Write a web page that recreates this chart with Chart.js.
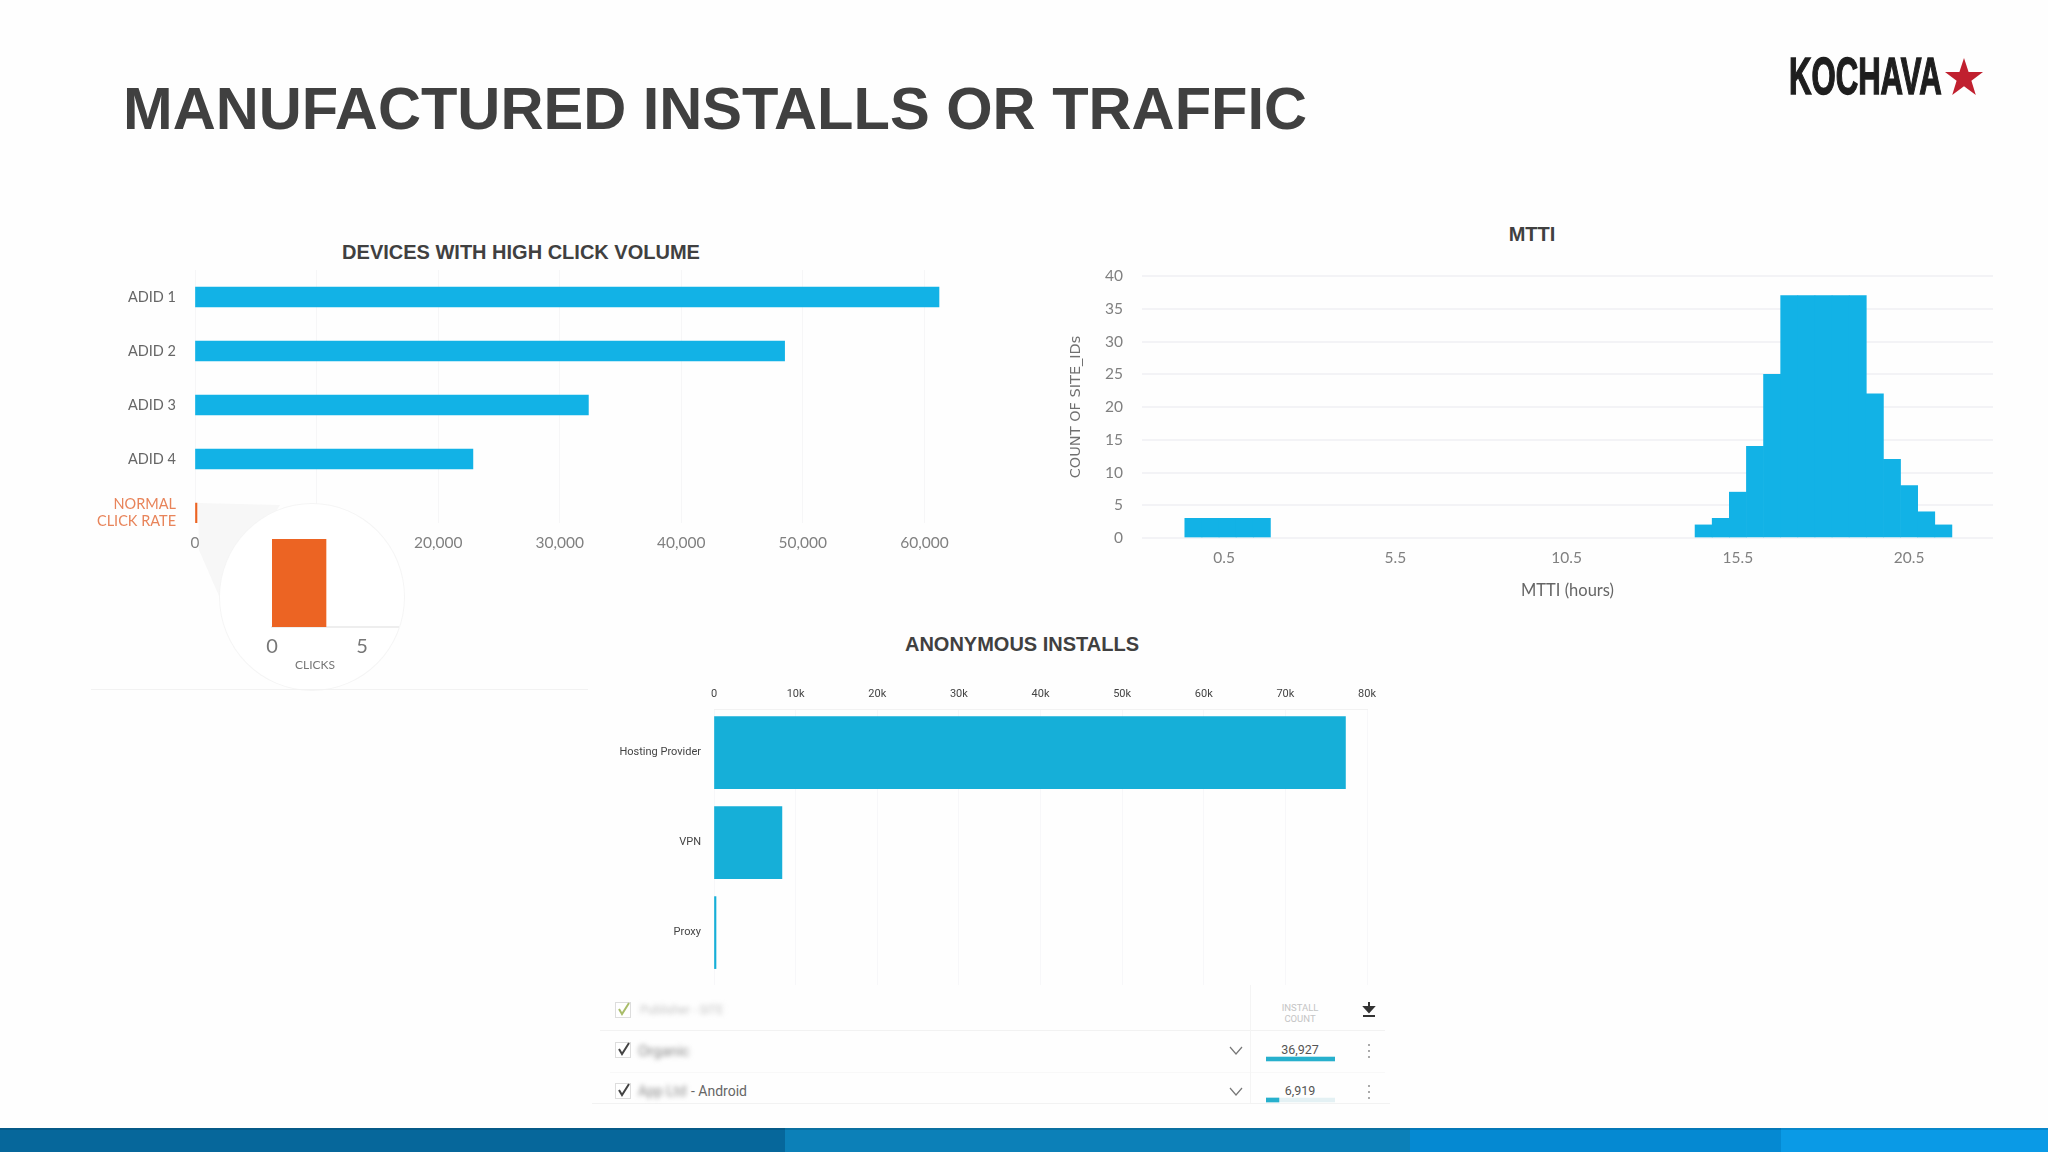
<!DOCTYPE html>
<html>
<head>
<meta charset="utf-8">
<title>Manufactured installs or traffic</title>
<script src="https://cdn.jsdelivr.net/npm/chart.js@4"></script>
<style>
    html, body { margin: 0; padding: 0; background: #fefefe; }
    #slide { position: relative; width: 2048px; height: 1152px; overflow: hidden; font-family: "Liberation Sans", sans-serif; }
    #slide > * { position: absolute; }
    canvas { display: block; }
    .heading { color: #404040; font-weight: bold; font-size: 20px; white-space: nowrap; transform: translateX(-50%); line-height: 24px; }
    .cell { white-space: nowrap; font-family: Roboto, sans-serif; line-height: 16px; }
    .blur { filter: blur(2.5px); color: #888; }
    .rule { background: #f2f2f2; height: 1px; }
    .foot { top: 1128px; height: 24px; border-top: 2px solid rgba(0, 0, 0, 0.12); box-sizing: border-box; }
</style>
</head>
<body>
<div id="slide">
    <div style="left:123px;top:74px;font-size:59.6px;font-weight:bold;color:#404040;line-height:70px;white-space:nowrap;">MANUFACTURED INSTALLS OR TRAFFIC</div>

    <!-- logo -->
    <div style="left:1789px;top:41px;font-family:'Liberation Sans Narrow','Liberation Sans';font-weight:bold;font-size:51px;line-height:72px;color:#1e1e1e;-webkit-text-stroke:1.5px #1e1e1e;transform:scaleX(0.61);transform-origin:left top;white-space:nowrap;">KOCHAVA</div>
    <svg style="left:1944px;top:58px;" width="40" height="38" viewBox="0 0 40 38"><polygon points="20,0 24.6,14 39,14 27.4,22.8 31.8,37 20,28.2 8.2,37 12.6,22.8 1,14 15.4,14" fill="#c0202f"/></svg>

    <div class="heading" style="left:521px;top:240px;">DEVICES WITH HIGH CLICK VOLUME</div>
    <div class="heading" style="left:1532px;top:222px;">MTTI</div>
    <div class="heading" style="left:1022px;top:632px;">ANONYMOUS INSTALLS</div>

    <canvas id="clicksChart" style="left:80px;top:270px;"></canvas>

    <!-- zoom bubble over the small bar -->
    <svg style="left:190px;top:495px;" width="120" height="120"><polygon points="8,8 90,10 32,108 9,55" fill="#f7f7f7"/></svg>
    <div style="left:220px;top:504px;width:184px;height:186px;border-radius:50%;background:#fff;box-shadow:0 0 0 1px #f5f5f5;"></div>
    <canvas id="zoomChart" style="left:262px;top:530px;"></canvas>
    <div class="cell" style="left:295px;top:657px;font-family:Lato;font-size:12px;color:#777;">CLICKS</div>
    <div class="rule" style="left:91px;top:689px;width:497px;"></div>

    <canvas id="mttiChart" style="left:1060px;top:266px;"></canvas>
    <canvas id="anonChart" style="left:590px;top:680px;"></canvas>

    <!-- table under the anonymous installs chart -->
    <div class="rule" style="left:600px;top:1030px;width:785px;"></div>
    <div class="rule" style="left:610px;top:1072px;width:775px;background:#f8f8f8;"></div>
    <div class="rule" style="left:592px;top:1103px;width:798px;"></div>
    <div style="left:1250px;top:985px;width:1px;height:118px;background:#f4f4f4;"></div>

    <svg style="left:615px;top:1001px;" width="18" height="18"><rect x="0.5" y="1.5" width="15" height="15" fill="#fff" stroke="#ddd"/><path d="M4 8 L7 13 L14 2" fill="none" stroke="#a9bd6a" stroke-width="2"/></svg>
    <svg style="left:615px;top:1041px;" width="18" height="18"><rect x="0.5" y="1.5" width="15" height="15" fill="#fff" stroke="#ddd"/><path d="M4 8 L7 13 L14 2" fill="none" stroke="#444" stroke-width="2"/></svg>
    <svg style="left:615px;top:1082px;" width="18" height="18"><rect x="0.5" y="1.5" width="15" height="15" fill="#fff" stroke="#ddd"/><path d="M4 8 L7 13 L14 2" fill="none" stroke="#444" stroke-width="2"/></svg>

    <div class="cell blur" style="left:640px;top:1002px;font-size:12px;color:#c4c4c4;">Publisher - SITE</div>
    <div class="cell blur" style="left:638px;top:1043px;font-size:15px;">Organic</div>
    <div class="cell blur" style="left:638px;top:1083px;font-size:14px;">App Ltd</div>
    <div class="cell" style="left:691px;top:1083px;font-size:14px;color:#666;">- Android</div>

    <div class="cell" style="left:1270px;top:1002px;width:60px;text-align:center;font-size:9.5px;line-height:11px;color:#c4c4c4;">INSTALL<br>COUNT</div>
    <div class="cell" style="left:1270px;top:1042px;width:60px;text-align:center;font-size:12.5px;color:#555;">36,927</div>
    <div class="cell" style="left:1270px;top:1083px;width:60px;text-align:center;font-size:12.5px;color:#555;">6,919</div>
    <canvas id="rowBars" style="left:1266px;top:1052px;"></canvas>

    <svg style="left:1229px;top:1046px;" width="14" height="10"><path d="M1 1 L7 8 L13 1" fill="none" stroke="#777" stroke-width="1.2"/></svg>
    <svg style="left:1229px;top:1087px;" width="14" height="10"><path d="M1 1 L7 8 L13 1" fill="none" stroke="#777" stroke-width="1.2"/></svg>
    <svg style="left:1362px;top:1001px;" width="14" height="18"><path d="M7 1 V10 M2.5 6 L7 11 L11.5 6 Z M1 15 H13" fill="#333" stroke="#333" stroke-width="2"/></svg>
    <svg style="left:1367px;top:1043px;" width="4" height="16"><path d="M2 1 V3 M2 7 V9 M2 13 V15" stroke="#aaa" stroke-width="2"/></svg>
    <svg style="left:1367px;top:1084px;" width="4" height="16"><path d="M2 1 V3 M2 7 V9 M2 13 V15" stroke="#aaa" stroke-width="2"/></svg>

    <!-- footer band -->
    <div class="foot" style="left:0;width:785px;background:#06679b;"></div>
    <div class="foot" style="left:785px;width:625px;background:#0c80b8;"></div>
    <div class="foot" style="left:1410px;width:371px;background:#0589d2;"></div>
    <div class="foot" style="left:1781px;width:267px;background:#0a9ae6;"></div>
</div>

<script>
// Devices with high click volume
const ADID_LABELS = ['ADID 1', 'ADID 2', 'ADID 3', 'ADID 4', ['NORMAL', 'CLICK RATE']];
const ADID_ROWS = [0, 1, 2, 3, 4];
const ADID_CLICKS = [61200, 48500, 32360, 22860, 3];
const CLICK_TICKS = [0, 10000, 20000, 30000, 40000, 50000, 60000];

// Zoomed view of the normal click rate
const ZOOM_LABELS = ['NORMAL CLICK RATE'];
const ZOOM_CLICKS = [3];
const ZOOM_TICKS = [0, 5];

// MTTI histogram (half hour bins, the centre of each bin)
const MTTI_BINS = [-0.4, 0.1, 0.6, 1.1, 1.6, 14.5, 15, 15.5, 16, 16.5, 17, 17.5, 18, 18.5, 19, 19.5, 20, 20.5, 21, 21.5];
const MTTI_COUNTS = [3, 3, 3, 3, 3, 2, 3, 7, 14, 25, 37, 37, 37, 37, 37, 22, 12, 8, 4, 2];
const MTTI_X_TICKS = [0.5, 5.5, 10.5, 15.5, 20.5];
const MTTI_Y_TICKS = [0, 5, 10, 15, 20, 25, 30, 35, 40];

// Anonymous installs
const ANON_LABELS = ['Hosting Provider', 'VPN', 'Proxy'];
const ANON_ROWS = [0, 1, 2];
const ANON_INSTALLS = [77360, 8320, 100];
const ANON_TICKS = [0, 10000, 20000, 30000, 40000, 50000, 60000, 70000, 80000];

// Install count column of the table
const TABLE_COUNTS = [36927, 6919];
const TABLE_MAX = 36927;

const BLUE = '#12b2e6';
const GRID = '#f3f3f6';
const TICK_GREY = '#808080';
const ORANGE = '#ec6423';

function setSize(id, w, h) {
    const c = document.getElementById(id);
    c.width = w;
    c.height = h;
    c.style.width = w + 'px';
    c.style.height = h + 'px';
    return c.getContext('2d');
}

// fixes an axis thickness so that the plot lands where it should
// (tick padding also counts as top/bottom padding of a vertical axis, so drop that)
function fitWidth(w) {
    return scale => {
        scale.width = w;
        scale.paddingTop = 0;
        scale.paddingBottom = 0;
    };
}
function fitHeight(h) { return scale => { scale.height = h; }; }
function fixedTicks(values) {
    return axis => { axis.ticks = values.map(v => ({ value: v })); };
}

const baseOptions = {
    responsive: false,
    animation: false,
    plugins: { legend: { display: false }, tooltip: { enabled: false } }
};

new Chart(setSize('clicksChart', 880, 290), {
    type: 'bar',
    data: {
        datasets: [{
            data: ADID_ROWS.map((r, i) => ({ x: ADID_CLICKS[i], y: r })),
            backgroundColor: ADID_ROWS.map(r => r === 4 ? ORANGE : BLUE),
            barThickness: 20,
            minBarLength: 2
        }]
    },
    options: {
        ...baseOptions,
        indexAxis: 'y',
        layout: { padding: { right: 15 } },
        scales: {
            x: {
                type: 'linear', min: 0, max: 61500,
                afterBuildTicks: fixedTicks(CLICK_TICKS),
                afterFit: fitHeight(37),
                grid: { color: '#f6f6f7', drawTicks: false },
                border: { display: false },
                ticks: {
                    padding: 11, autoSkip: false, maxRotation: 0, color: TICK_GREY,
                    font: { family: 'Lato', size: 15.5 },
                    callback: v => v.toLocaleString('en-US')
                }
            },
            y: {
                type: 'linear', reverse: true, min: -0.5, max: 4.185, offset: false,
                afterBuildTicks: fixedTicks(ADID_ROWS),
                afterFit: fitWidth(115),
                grid: { display: false, drawTicks: false, offset: false },
                border: { display: false },
                ticks: {
                    padding: 19, autoSkip: false,
                    color: ctx => ctx.tick.value === 4 ? '#e8845a' : '#666',
                    font: { family: 'Lato', size: 14.5 },
                    callback: v => ADID_LABELS[v]
                }
            }
        }
    }
});

new Chart(setSize('zoomChart', 150, 150), {
    type: 'bar',
    data: {
        labels: ZOOM_LABELS,
        datasets: [{ data: ZOOM_CLICKS, backgroundColor: ORANGE, barPercentage: 1, categoryPercentage: 1 }]
    },
    options: {
        ...baseOptions,
        indexAxis: 'y',
        layout: { padding: { left: 10, top: 9, right: 14 } },
        scales: {
            x: {
                type: 'linear', min: 0, max: 7,
                afterBuildTicks: fixedTicks(ZOOM_TICKS),
                afterFit: fitHeight(53),
                grid: { display: false },
                border: { color: '#eeeeee', width: 2 },
                ticks: { padding: 0, color: '#777', font: { family: 'Lato', size: 20 } }
            },
            y: { display: false }
        }
    }
});

new Chart(setSize('mttiChart', 950, 340), {
    type: 'bar',
    data: {
        datasets: [{
            data: MTTI_BINS.map((b, i) => ({ x: b, y: MTTI_COUNTS[i] })),
            backgroundColor: BLUE,
            barPercentage: 1,
            categoryPercentage: 1
        }]
    },
    options: {
        ...baseOptions,
        layout: { padding: { top: 10, right: 17 } },
        scales: {
            x: {
                type: 'linear', min: -1.9, max: 22.95, offset: false,
                afterBuildTicks: fixedTicks(MTTI_X_TICKS),
                afterFit: fitHeight(68),
                grid: { display: false, drawTicks: false, offset: false },
                border: { display: false },
                title: {
                    display: true, text: 'MTTI (hours)', color: '#666',
                    font: { family: 'Lato', size: 16.5 }, padding: { top: 0, bottom: 5 }
                },
                ticks: {
                    padding: 11, autoSkip: false, maxRotation: 0, color: TICK_GREY,
                    font: { family: 'Lato', size: 15.5 },
                    callback: v => v.toFixed(1)
                }
            },
            y: {
                type: 'linear', min: 0, max: 40,
                afterBuildTicks: fixedTicks(MTTI_Y_TICKS),
                afterFit: fitWidth(82),
                grid: { color: GRID, lineWidth: 2, drawTicks: false },
                border: { display: false },
                title: {
                    display: true, text: 'COUNT OF SITE_IDs', color: '#707070',
                    font: { family: 'DejaVu Sans', size: 14.5 }, padding: { top: 8, bottom: 0 }
                },
                ticks: { padding: 19, autoSkip: false, color: TICK_GREY, font: { family: 'Lato', size: 15.5 } }
            }
        }
    }
});

new Chart(setSize('anonChart', 800, 305), {
    type: 'bar',
    data: {
        datasets: [{
            data: ANON_ROWS.map((r, i) => ({ x: ANON_INSTALLS[i], y: r })),
            backgroundColor: '#16afd8',
            barThickness: 72,
            minBarLength: 2
        }]
    },
    options: {
        ...baseOptions,
        indexAxis: 'y',
        layout: { padding: { right: 23 } },
        scales: {
            x: {
                type: 'linear', position: 'top', min: 0, max: 80000,
                afterBuildTicks: fixedTicks(ANON_TICKS),
                afterFit: fitHeight(29),
                grid: { color: '#f7f7f9', drawTicks: false },
                border: { color: '#f2f2f2' },
                ticks: {
                    padding: 8, autoSkip: false, maxRotation: 0, color: '#444',
                    font: { family: 'Roboto', size: 11 },
                    callback: v => v === 0 ? '0' : (v / 1000) + 'k'
                }
            },
            y: {
                type: 'linear', reverse: true, min: -0.484, max: 2.582, offset: false,
                afterBuildTicks: fixedTicks(ANON_ROWS),
                afterFit: fitWidth(124),
                grid: { display: false, drawTicks: false, offset: false },
                border: { display: false },
                ticks: {
                    padding: 13, autoSkip: false, color: '#444',
                    font: { family: 'Roboto', size: 11 },
                    callback: v => ANON_LABELS[v]
                }
            }
        }
    }
});

// small bars under the install counts, the light one is the track behind
new Chart(setSize('rowBars', 69, 54), {
    type: 'bar',
    data: {
        datasets: [
            {
                data: TABLE_COUNTS.map((c, i) => ({ x: c, y: i })),
                backgroundColor: '#27b0cd',
                barThickness: 4,
                order: 1
            },
            {
                data: TABLE_COUNTS.map((c, i) => ({ x: TABLE_MAX, y: i })),
                backgroundColor: '#e4f1f4',
                barThickness: 4,
                order: 2
            }
        ]
    },
    options: {
        ...baseOptions,
        indexAxis: 'y',
        scales: {
            x: { type: 'linear', display: false, min: 0, max: TABLE_MAX },
            y: { type: 'linear', display: false, reverse: true, min: -0.17, max: 1.146, offset: false }
        },
        datasets: { bar: { grouped: false } }
    }
});
</script>
</body>
</html>
